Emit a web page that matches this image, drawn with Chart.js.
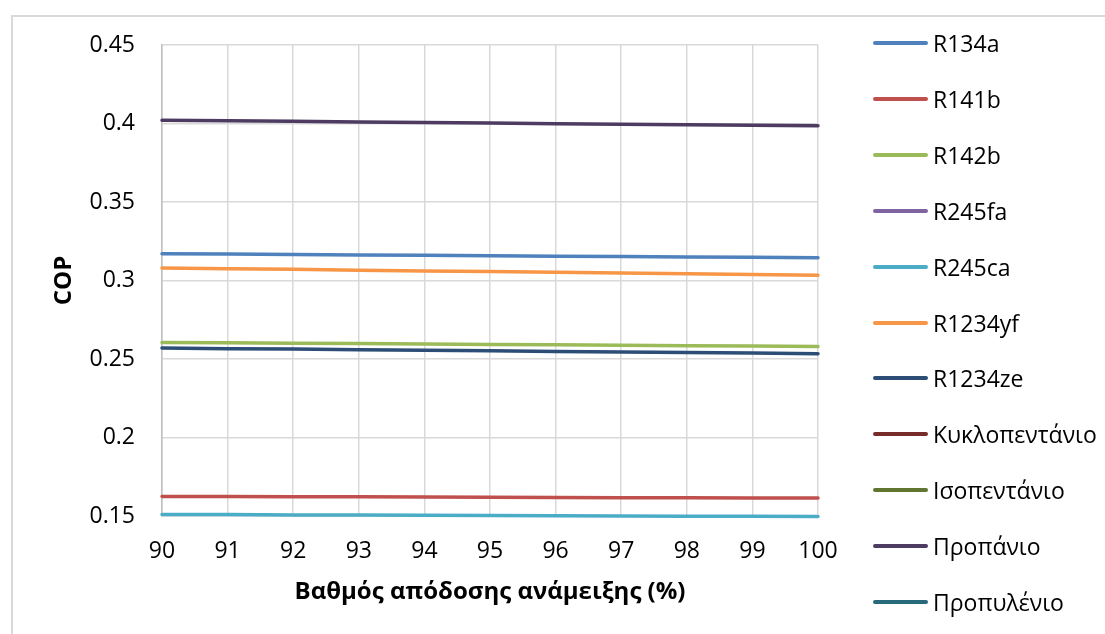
<!DOCTYPE html>
<html>
<head>
<meta charset="utf-8">
<title>COP</title>
<script src="https://cdn.jsdelivr.net/npm/chart.js@4"></script>
<style>
  html, body { margin: 0; padding: 0; background: #fff; }
  #wrap { position: relative; width: 1105px; height: 634px; overflow: hidden; font-family: "Open Sans", "Noto Sans", sans-serif; }
  #frame { position: absolute; left: 11px; top: 15px; width: 1200px; height: 700px; border: 2px solid #d9d9d9; box-sizing: border-box; }
  #chart { position: absolute; left: 0; top: 0; }
  #legend { position: absolute; left: 873px; top: 0; }
  .item { position: absolute; left: 0; height: 30px; margin-top: -15px; display: flex; align-items: center; white-space: nowrap; font-size: 23px; color: #000; }
  .swatch { width: 55px; height: 4px; border-radius: 2px; margin-right: 5px; flex: none; }
</style>
</head>
<body>
<div id="wrap">
  <div id="frame"></div>
  <canvas id="chart" width="1105" height="634"></canvas>
  <div id="legend"></div>
</div>
<script>
// Mixing efficiency (%) on the x axis
const categories = ['90', '91', '92', '93', '94', '95', '96', '97', '98', '99', '100'];
const yTickLabels = ['0.15', '0.2', '0.25', '0.3', '0.35', '0.4', '0.45'];

const seriesNames = ['R134a', 'R141b', 'R142b', 'R245fa', 'R245ca', 'R1234yf', 'R1234ze',
                     'Κυκλοπεντάνιο', 'Ισοπεντάνιο', 'Προπάνιο', 'Προπυλένιο'];
const seriesColors = ['#4F81BD', '#C0504D', '#9BBB59', '#8064A2', '#4BACC6', '#F79646', '#2C4D75',
                      '#772C2A', '#5F7530', '#4D3B62', '#276A7C'];

// COP per refrigerant
const copR134a    = [0.3171, 0.3168, 0.3166, 0.3163, 0.3161, 0.3158, 0.3155, 0.3153, 0.3150, 0.3148, 0.3145];
const copR141b    = [0.1625, 0.1624, 0.1623, 0.1622, 0.1621, 0.1620, 0.1618, 0.1617, 0.1616, 0.1615, 0.1614];
const copR142b    = [0.2605, 0.2603, 0.2600, 0.2598, 0.2595, 0.2593, 0.2590, 0.2588, 0.2585, 0.2583, 0.2580];
const copR245fa   = [];
const copR245ca   = [0.1510, 0.1509, 0.1507, 0.1506, 0.1504, 0.1503, 0.1502, 0.1500, 0.1499, 0.1498, 0.1497];
const copR1234yf  = [0.3080, 0.3075, 0.3071, 0.3066, 0.3061, 0.3057, 0.3052, 0.3047, 0.3043, 0.3038, 0.3034];
const copR1234ze  = [0.2570, 0.2566, 0.2563, 0.2559, 0.2556, 0.2552, 0.2548, 0.2545, 0.2541, 0.2538, 0.2534];
const copCyclopentane = [];
const copIsopentane   = [];
const copPropane  = [0.4021, 0.4017, 0.4014, 0.4010, 0.4007, 0.4003, 0.3999, 0.3996, 0.3992, 0.3989, 0.3985];
const copPropylene    = [];

const seriesValues = [copR134a, copR141b, copR142b, copR245fa, copR245ca, copR1234yf, copR1234ze,
                      copCyclopentane, copIsopentane, copPropane, copPropylene];

const datasets = seriesNames.map((name, i) => ({
  label: name,
  data: seriesValues[i],
  borderColor: seriesColors[i],
  backgroundColor: seriesColors[i],
  borderWidth: 3.5,
  pointRadius: 0,
  tension: 0,
  clip: false,
  borderCapStyle: 'round'
}));

const tickFont = { family: '"Open Sans", "Noto Sans", sans-serif', size: 23 };
const titleFont = { family: '"Open Sans", "Noto Sans", sans-serif', size: 24, weight: 'bold' };

const chart = new Chart(document.getElementById('chart'), {
  type: 'line',
  data: { labels: categories, datasets: datasets },
  options: {
    responsive: false,
    animation: false,
    devicePixelRatio: 1,
    layout: { padding: { top: 45, right: 287, left: 0, bottom: 0 } },
    plugins: { legend: { display: false }, tooltip: { enabled: false } },
    scales: {
      x: {
        type: 'category',
        offset: false,
        grid: { color: '#d9d9d9', lineWidth: 1.5, drawTicks: false },
        border: { color: '#d9d9d9', width: 1.5 },
        ticks: { font: tickFont, color: '#000', padding: 22, maxRotation: 0, autoSkip: false },
        title: { display: true, text: 'Βαθμός απόδοσης ανάμειξης (%)', font: titleFont, color: '#000', padding: { top: 0, bottom: 27 } },
        afterFit: (s) => { s.height = 118; }
      },
      y: {
        min: 0.15,
        max: 0.45,
        grid: { color: '#d9d9d9', lineWidth: 1.5, drawTicks: false },
        border: { color: '#bfbfbf', width: 1.5 },
        ticks: { stepSize: 0.05, font: tickFont, color: '#000', padding: 27,
                 callback: (v, i) => yTickLabels[i] },
        title: { display: true, text: 'COP', font: titleFont, color: '#000', padding: { top: 50, bottom: 0 } },
        afterFit: (s) => { s.width = 162; }
      }
    }
  }
});

// Legend column to the right of the plot, one row per dataset
const legend = document.getElementById('legend');
chart.data.datasets.forEach((ds, i) => {
  const row = document.createElement('div');
  row.className = 'item';
  row.style.top = (43 + i * 55.9) + 'px';
  const sw = document.createElement('span');
  sw.className = 'swatch';
  sw.style.background = ds.borderColor;
  const txt = document.createElement('span');
  txt.textContent = ds.label;
  row.appendChild(sw);
  row.appendChild(txt);
  legend.appendChild(row);
});
</script>
</body>
</html>
